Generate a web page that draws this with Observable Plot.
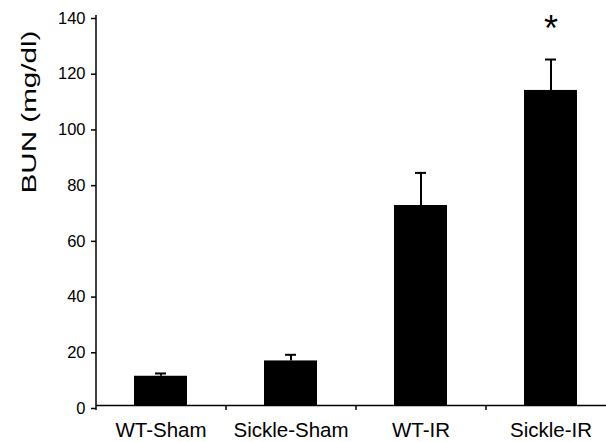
<!DOCTYPE html>
<html>
<head>
<meta charset="utf-8">
<script src="https://cdn.jsdelivr.net/npm/d3@7"></script>
<script src="https://cdn.jsdelivr.net/npm/@observablehq/plot@0.6"></script>
<style>
  html, body { margin: 0; padding: 0; background: #fff; overflow: hidden; }
  #chart svg { display: block; }
</style>
</head>
<body>
<div id="chart"></div>
<script>
// ---- data ----
const groups = ["WT-Sham", "Sickle-Sham", "WT-IR", "Sickle-IR"];
const bun = [10.5, 16.0, 71.8, 113.1];   // mean BUN (mg/dl)
const sem = [1.0, 2.2, 11.7, 11.1];      // upper error bar length
const sig = ["", "", "", "*"];           // significance markers
const yTicks = [0, 20, 40, 60, 80, 100, 120, 140];
const yLabel = "BUN (mg/dl)";

const data = groups.map((g, i) => ({group: g, value: bun[i], err: sem[i], sig: sig[i]}));

const W = 606, H = 442;
const xRange = [96, 616];
const step = (xRange[1] - xRange[0]) / groups.length;
const font = "'Liberation Sans', Arial, Helvetica, sans-serif";

const chart = Plot.plot({
  width: W,
  height: H,
  marginLeft: 96,
  marginRight: 0,
  marginTop: 15,
  marginBottom: 37,
  style: {fontFamily: font, color: "#000", background: "#fff"},
  x: {domain: groups, range: xRange, paddingInner: 0.59, paddingOuter: 0.295, label: null},
  y: {domain: [0, d3.max(yTicks)], label: null},
  marks: [
    Plot.barY(data, {x: "group", y: "value", fill: "#000"}),
    // error bar stems and caps
    Plot.ruleX(data, {x: "group", y1: "value", y2: d => d.value + d.err, stroke: "#000", strokeWidth: 2}),
    Plot.tickY(data, {x: "group", y: d => d.value + d.err, stroke: "#000", strokeWidth: 2, insetLeft: 21, insetRight: 21}),
    // significance marker
    Plot.text(data, {x: "group", y: d => d.value + d.err, text: "sig", dy: -30, fontSize: 36, fill: "#000"}),
    // axes lines
    Plot.ruleY([0], {stroke: "#000", strokeWidth: 1.5}),
    Plot.ruleX([groups[0]], {dx: -step / 2, y1: 0, y2: d3.max(yTicks), stroke: "#000", strokeWidth: 1.5}),
    // x category boundary ticks
    Plot.ruleX(groups, {x: d => d, dx: -step / 2, y1: 0, y2: 0, insetBottom: -5, stroke: "#000", strokeWidth: 1.5}),
    Plot.axisY({ticks: yTicks, tickSize: 5, tickPadding: 6, fontSize: 16.5, dy: 3, stroke: "#000", strokeWidth: 1.5, label: null}),
    Plot.axisX({tickSize: 0, tickPadding: 17, fontSize: 20.5, label: null}),
    // y axis title
    Plot.text([yLabel], {frameAnchor: "left", text: d => d, rotate: -90, dx: -67, dy: -17, fontSize: 21, fill: "#000"})
  ]
});

// stretch the y-axis title to the length it has in the reference
d3.select(chart).selectAll("text").filter(function() { return this.textContent === yLabel; })
  .attr("textLength", 163).attr("lengthAdjust", "spacingAndGlyphs");

document.getElementById("chart").appendChild(chart);
</script>
</body>
</html>
